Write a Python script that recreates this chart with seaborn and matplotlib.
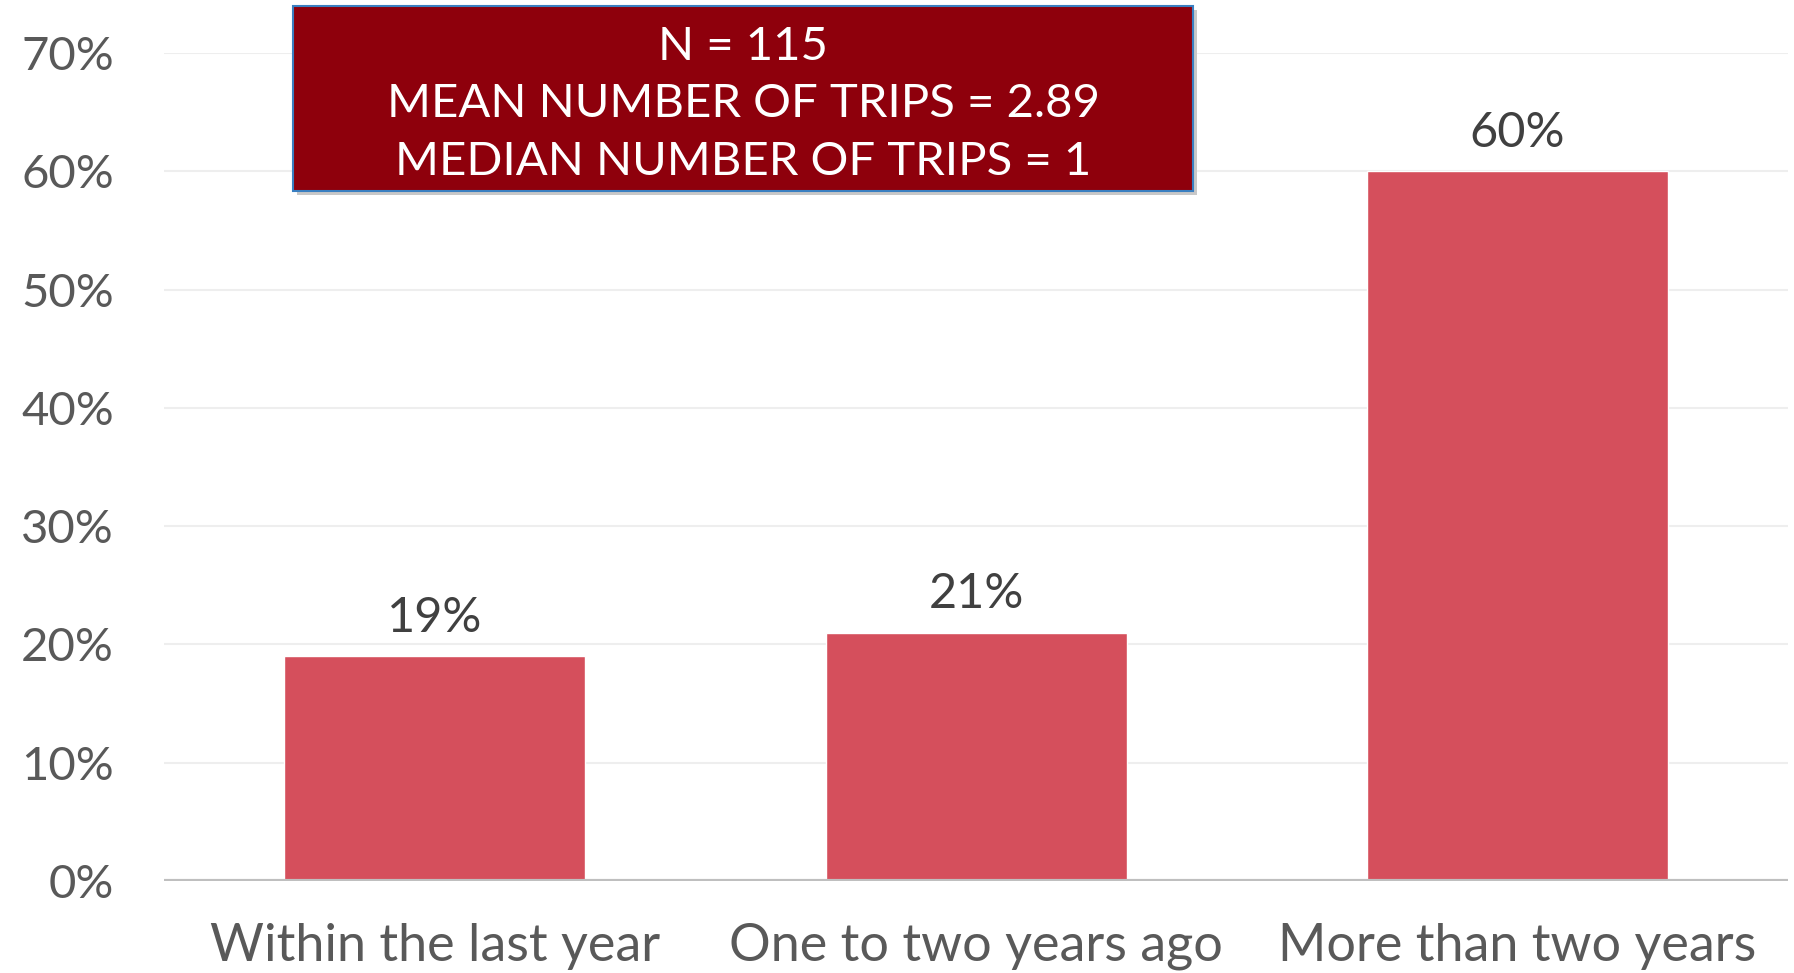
import matplotlib
matplotlib.use("Agg")
import matplotlib.pyplot as plt
import seaborn as sns
import pandas as pd
from matplotlib.patches import Rectangle

# data
categories = ["Within the last year", "One to two years ago", "More than two years"]
shares = [19, 21, 60]
yticks = [0, 10, 20, 30, 40, 50, 60, 70]
box_lines = ["N = 115", "MEAN NUMBER OF TRIPS = 2.89", "MEDIAN NUMBER OF TRIPS = 1"]

df = pd.DataFrame({"When": categories, "Share": shares})

sns.set_style("white")
plt.rcParams['font.family'] = ['Lato', 'DejaVu Sans']

fig = plt.figure(figsize=(17.94, 9.73), dpi=100)
ax = fig.add_axes([0.0914, 0.0946, 0.9053, 0.8509])

sns.barplot(data=df, x="When", y="Share", color="#d54f5c", saturation=1,
            width=0.556, ax=ax, zorder=3)

ax.set_ylim(0, 70)
ax.set_xlim(-0.5, 2.5)
ax.set_yticks(yticks)
ax.set_yticklabels([f"{t}%" for t in yticks], fontsize=34, color="#595959")
ax.set_xticklabels(categories, fontsize=37.5, color="#595959")
ax.tick_params(axis='y', length=0, pad=36)
ax.tick_params(axis='x', length=0, pad=30)
ax.set_xlabel("")
ax.set_ylabel("")

for t in yticks[1:]:
    ax.axhline(t, color="#eeeeee", linewidth=1.5, zorder=1)
ax.axhline(0, color="#bfbfbf", linewidth=3, zorder=4)

for s in ax.spines.values():
    s.set_visible(False)

for i, v in enumerate(shares):
    ax.annotate(f"{v}%", (i, v), xytext=(0, 12), textcoords="offset points",
                ha="center", va="bottom", fontsize=35, color="#404040")

# summary box
shadow = Rectangle((0.1655, 0.800), 0.5017, 0.1901, transform=fig.transFigure,
                   facecolor="#c8c8c8", edgecolor="none", zorder=5)
fig.patches.append(shadow)
box = Rectangle((0.1633, 0.8037), 0.5017, 0.1901, transform=fig.transFigure,
                facecolor="#8e000c", edgecolor="#3a7fc1", linewidth=1.5, zorder=6)
fig.patches.append(box)
for j, line in enumerate(box_lines):
    fig.text(0.4142, 0.952 - j * 0.0592, line, ha="center", va="center",
             fontsize=34, color="white", zorder=7)

fig.savefig("out.png", dpi=100)
